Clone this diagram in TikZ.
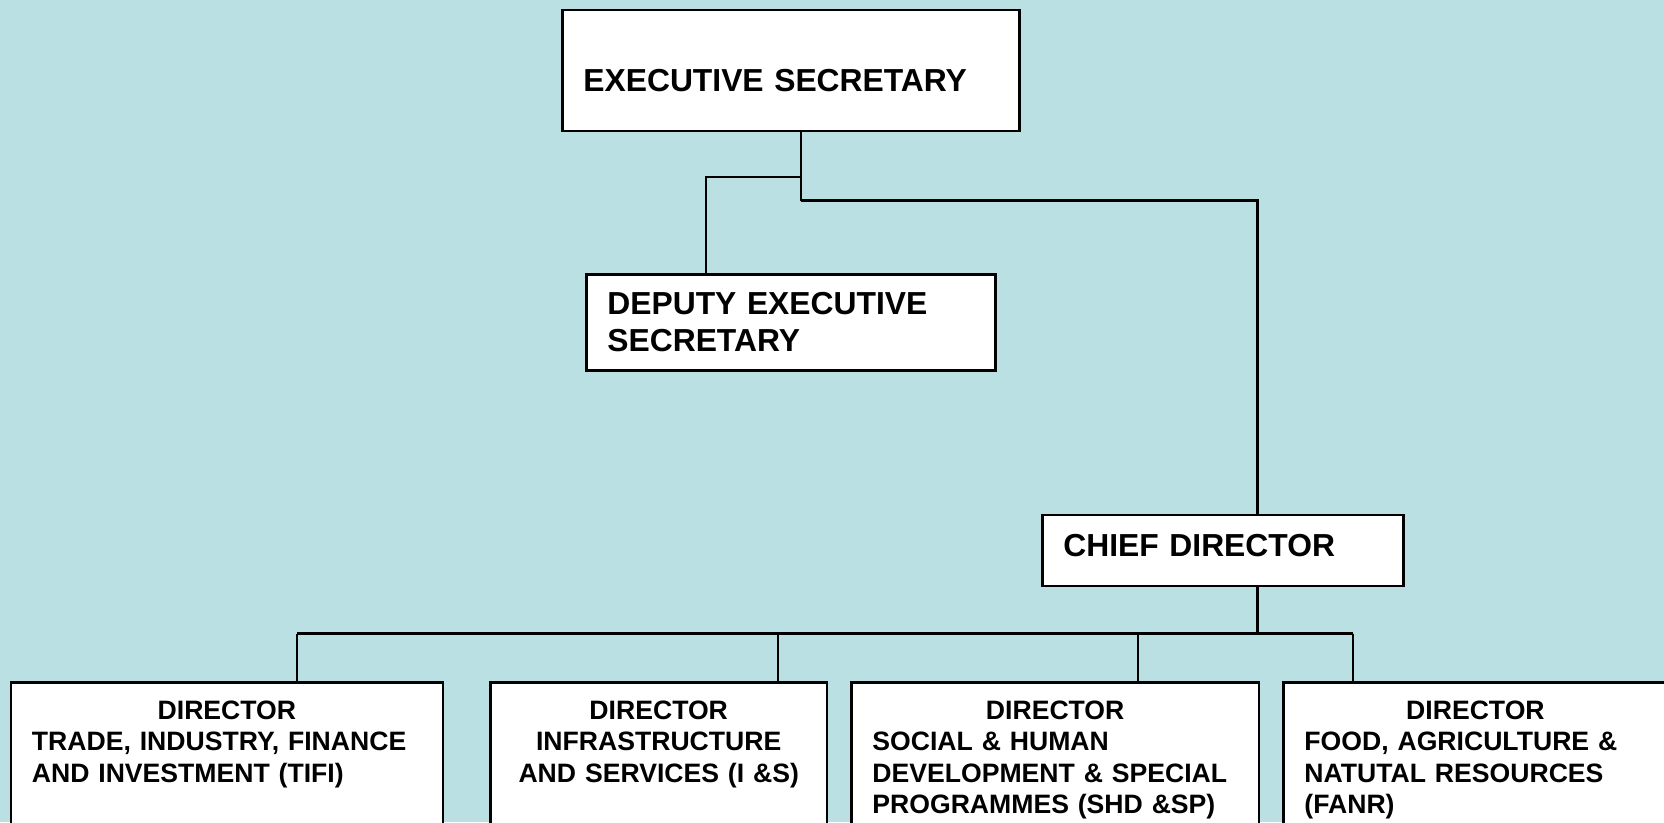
\documentclass[tikz,border=0pt]{standalone}
\usepackage{fontspec}
\setmainfont{Liberation Sans}
\usepackage{xcolor}
\usepackage{tikz}
\definecolor{bg}{HTML}{BBE0E3}
\tikzset{
  box/.style={draw=black, fill=white, line width=0.8pt, anchor=north west, align=left,
    inner xsep=0.21cm, font=\bfseries\fontsize{9.05}{10.56}\selectfont},
  dirbox/.style={box, inner ysep=0.18cm, text depth=2cm,
    font=\bfseries\fontsize{7.57}{8.99}\selectfont},
  wire/.style={draw=black, line width=0.6pt},
}

\begin{document}
\begin{tikzpicture}
  \useasboundingbox (0,0) rectangle (16.64,-8.22);
  \clip (0,0) rectangle (16.64,-8.22);
  \fill[bg] (0,0) rectangle (16.64,-8.22);

  % top of the chart
  \node[box, minimum width=4.57cm, minimum height=1.21cm, text width=4.15cm,
    text height=11.9pt, text depth=0pt] (es) at (5.61,-0.085) {EXECUTIVE SECRETARY};
  \node[box, minimum width=4.09cm, minimum height=0.96cm, text width=3.67cm]
    (des) at (5.85,-2.73) {DEPUTY EXECUTIVE\\SECRETARY};
  \node[box, minimum width=3.61cm, minimum height=0.71cm, text width=3.19cm,
    text depth=2.8pt] (cd) at (10.41,-5.136) {CHIEF DIRECTOR};

  % directorates
  \node[dirbox, minimum width=4.32cm, text width=3.90cm] (tifi) at (0.095,-6.81)
    {\makebox[\hsize]{DIRECTOR}\\TRADE, INDUSTRY, FINANCE\\AND INVESTMENT (TIFI)};
  \node[dirbox, minimum width=3.366cm, text width=2.946cm, align=center] (ins) at (4.89,-6.81)
    {DIRECTOR\\INFRASTRUCTURE\\AND SERVICES (I \&S)};
  \node[dirbox, minimum width=4.075cm, text width=3.655cm] (shd) at (8.50,-6.81)
    {\makebox[\hsize]{DIRECTOR}\\SOCIAL \& HUMAN\\DEVELOPMENT \& SPECIAL\\PROGRAMMES (SHD \&SP)};
  \node[dirbox, minimum width=3.84cm, text width=3.42cm] (fanr) at (12.82,-6.81)
    {\makebox[\hsize]{DIRECTOR}\\FOOD, AGRICULTURE \&\\NATUTAL RESOURCES\\(FANR)};

  \coordinate (j1) at (8.01,-1.77);
  \coordinate (j2) at (8.01,-2.005);
  \coordinate (jd) at (7.06,-1.77);
  \coordinate (jc) at (12.575,-2.005);
  \coordinate (bus) at (12.575,-6.335);

  \draw[wire] (es.south -| j1) -- (j2);
  \draw[wire] (j1) -- (jd) -- (des.north -| jd);
  \draw[wire] (j2) -- (jc) -- (cd.north -| jc);
  \draw[wire] (cd.south -| bus) -- (bus);

  \foreach \n/\x in {tifi/2.971, ins/7.779, shd/11.376, fanr/13.53} {
    \coordinate (d\n) at (\x,-6.335);
    \draw[wire] (d\n) -- (\n.north -| d\n);
  }
  \draw[wire] (dtifi) -- (dfanr);
\end{tikzpicture}
\end{document}
